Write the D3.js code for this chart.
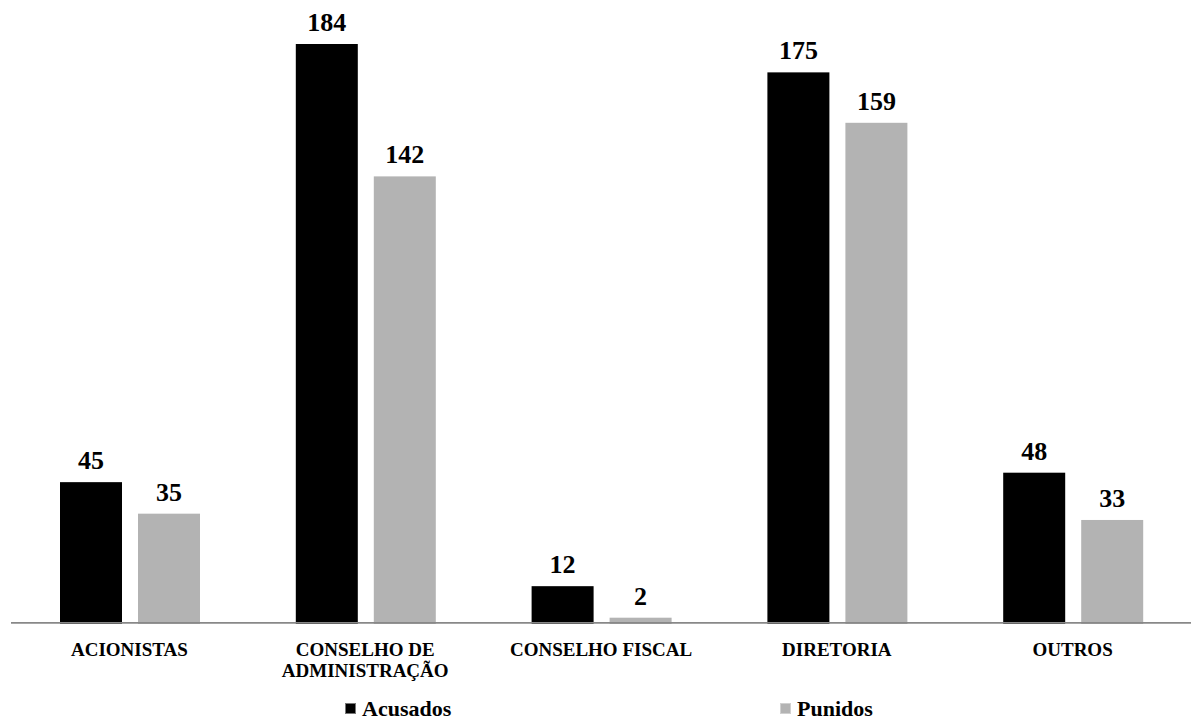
<!DOCTYPE html>
<html>
<head>
<meta charset="utf-8">
<script src="https://cdn.jsdelivr.net/npm/d3@7"></script>
<style>
  html, body { margin: 0; padding: 0; background: #fff; }
  svg { display: block; }
  svg text { font-family: "Liberation Serif", "Times New Roman", serif; font-weight: bold; }
</style>
</head>
<body>
<svg id="chart" width="1191" height="719"></svg>
<script>
// Categories (each label split into display lines)
const categories = ["ACIONISTAS", "CONSELHO DE ADMINISTRAÇÃO", "CONSELHO FISCAL", "DIRETORIA", "OUTROS"];
const categoryLines = [["ACIONISTAS"], ["CONSELHO DE", "ADMINISTRAÇÃO"], ["CONSELHO FISCAL"], ["DIRETORIA"], ["OUTROS"]];
const seriesNames = ["Acusados", "Punidos"];
const acusados = [45, 184, 12, 175, 48];
const punidos = [35, 142, 2, 159, 33];
const seriesColors = ["#000000", "#b3b3b3"];

const svg = d3.select("#chart");
const W = 1191;
const baseY = 624;

const x0 = d3.scaleBand().domain(categories).range([12, W]).padding(0);
const x1 = d3.scaleBand().domain(seriesNames).range([48, 188]).paddingInner(16 / 78).paddingOuter(0);
const y = d3.scaleLinear().domain([0, 184]).range([baseY, 44]);
const color = d3.scaleOrdinal().domain(seriesNames).range(seriesColors);

const rows = categories.map((c, i) => ({
  cat: c,
  lines: categoryLines[i],
  values: [
    { key: "Acusados", value: acusados[i] },
    { key: "Punidos", value: punidos[i] }
  ]
}));

const groups = svg.append("g").selectAll("g")
  .data(rows).join("g")
  .attr("transform", d => `translate(${x0(d.cat)},0)`);

groups.selectAll("rect")
  .data(d => d.values).join("rect")
  .attr("x", d => x1(d.key))
  .attr("width", x1.bandwidth())
  .attr("y", d => y(d.value))
  .attr("height", d => y(0) - y(d.value))
  .attr("fill", d => color(d.key));

groups.selectAll("text.val")
  .data(d => d.values).join("text")
  .attr("class", "val")
  .attr("x", d => x1(d.key) + x1.bandwidth() / 2)
  .attr("y", d => y(d.value) - 13)
  .attr("text-anchor", "middle")
  .attr("font-size", 26)
  .attr("fill", "#000")
  .text(d => d.value);

// Category axis
const xAxis = d3.axisBottom(x0).tickSize(0).tickFormat("");
const axisG = svg.append("g").attr("transform", "translate(0,622.8)").call(xAxis);
axisG.select(".domain").attr("stroke", "#888").attr("stroke-width", 1.8)
  .attr("d", `M11,0H${W}`);

// Category labels below the axis
const labelG = svg.append("g");
rows.forEach(r => {
  const cx = x0(r.cat) + x0.bandwidth() / 2 - 0.5;
  const t = labelG.append("text")
    .attr("x", cx)
    .attr("y", 656)
    .attr("text-anchor", "middle")
    .attr("font-size", 19)
    .attr("fill", "#000");
  r.lines.forEach((ln, j) => {
    t.append("tspan")
      .attr("x", cx)
      .attr("dy", j === 0 ? 0 : 20.5)
      .text(ln);
  });
});

// Legend
const legendX = [345, 780];
const legend = svg.append("g").selectAll("g")
  .data(seriesNames).join("g")
  .attr("transform", (d, i) => `translate(${legendX[i]},703)`);
legend.append("rect")
  .attr("x", 0.5).attr("y", 0.5)
  .attr("width", 10).attr("height", 10)
  .attr("fill", d => color(d))
  .attr("stroke", (d, i) => i === 0 ? "#777" : "#d0d0d0")
  .attr("stroke-width", 1);
legend.append("text")
  .attr("x", 17)
  .attr("y", 12.5)
  .attr("font-size", 22)
  .attr("fill", "#000")
  .text(d => d);
</script>
</body>
</html>
